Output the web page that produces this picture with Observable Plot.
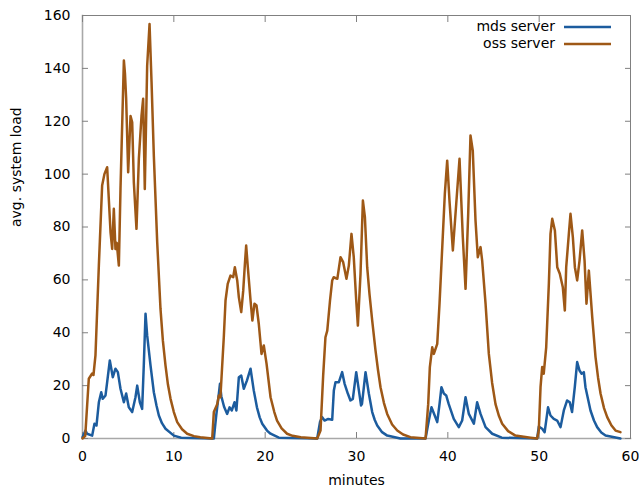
<!DOCTYPE html>
<html>
<head>
<meta charset="utf-8">
<script src="https://cdn.jsdelivr.net/npm/d3@7"></script>
<script src="https://cdn.jsdelivr.net/npm/@observablehq/plot@0.6"></script>
<style>
  html, body { margin: 0; padding: 0; background: #fff; }
  #chart { width: 639px; height: 491px; }
  svg { font-family: "DejaVu Sans", sans-serif; }
</style>
</head>
<body>
<div id="chart"></div>
<script>
// ---- data ----
const xTicks = [0, 10, 20, 30, 40, 50, 60];
const yTicks = [0, 20, 40, 60, 80, 100, 120, 140, 160];
const seriesNames = ["mds server", "oss server"];
const seriesColors = ["#1c5c9e", "#9e5816"];

const mdsMinutes = [0, 0.33, 0.5, 1.06, 1.31, 1.53, 1.79, 2.05, 2.22, 2.52, 2.7, 2.99, 3.32, 3.61, 3.87, 4.16, 4.53, 4.78, 5.07, 5.44, 5.8, 5.99, 6.28, 6.53, 6.71, 6.9, 7.08, 7.45, 7.81, 8.1, 8.36, 8.7, 9.09, 10.0, 10.8, 14.2,
  14.38, 14.64, 14.93, 15.05, 15.2, 15.5, 15.84, 16.1, 16.35, 16.64, 16.85, 17.12, 17.38, 17.66, 18.0, 18.4, 18.75, 19.1, 19.4, 19.68, 20.2, 20.59, 21.5, 25.7,
  26.0, 26.24, 26.5, 26.9, 27.34, 27.52, 27.7, 28.07, 28.43, 28.7, 29.05, 29.34, 29.6, 29.97, 30.26, 30.5, 30.6, 30.99, 31.35, 31.72, 32.0, 32.27, 32.8, 33.36, 34.8, 37.56,
  37.92, 38.21, 38.5, 38.84, 39.09, 39.3, 39.56, 39.82, 40.1, 40.65, 41.2, 41.57, 41.94, 42.3, 42.85, 43.21, 43.58, 44.13, 44.86, 45.9, 49.78,
  49.96, 50.33, 50.6, 50.97, 51.24, 51.6, 51.97, 52.34, 52.7, 53.06, 53.35, 53.6, 53.9, 54.16, 54.42, 54.65, 54.89, 55.07, 55.62, 56.0, 56.35, 56.8, 57.27, 58.9];
const mdsLoad = [0.5, 3, 1.8, 1.1, 5.6, 4.9, 13.7, 17.5, 15, 16.3, 21.3, 29.5, 23.2, 26.4, 25.1, 18.8, 13.7, 17, 11.8, 10, 15.6, 20, 13.7, 11.2, 27.6, 47.2, 39, 27.6, 17.5, 12.5, 8.7, 5.8, 3.7, 1.1, 0.3, 0,
  0, 8.7, 17, 20.7, 16, 12, 9.3, 11.8, 10.6, 13.7, 10.6, 23.2, 23.8, 18.8, 21.9, 26.4, 18.2, 11.8, 8, 5.6, 3, 1.8, 0.3, 0,
  6.2, 8.1, 6.8, 7.4, 7.1, 18.2, 21.3, 21.3, 25.1, 20.7, 17, 14.4, 15, 25.1, 18.2, 12.5, 13.1, 25.1, 17, 10, 7, 4.9, 2.4, 1.1, 0, 0,
  6.8, 11.8, 9.3, 6.2, 13, 19.4, 17, 16.3, 13, 7.4, 4.3, 6.8, 15.6, 9.3, 5.6, 13.7, 9.3, 4.3, 1.8, 0.3, 0,
  4.5, 3.7, 2.4, 11.8, 8.7, 7.4, 6.8, 4.3, 10.6, 14.4, 13.7, 10, 19.4, 28.9, 25.7, 24.5, 25.1, 19.4, 10.6, 6.8, 4.3, 2.3, 1.1, 0];

const ossMinutes = [0, 0.3, 0.69, 1.06, 1.2, 1.42, 1.79, 2.15, 2.4, 2.7, 3.07, 3.25, 3.43, 3.61, 3.75, 3.98, 4.16, 4.53, 4.65, 4.78, 5.0, 5.26, 5.44, 5.62, 5.91, 6.17, 6.46, 6.64, 6.82, 7.08, 7.34, 7.56, 7.81, 8.18, 8.54, 8.8, 9.09, 9.35, 9.64, 10.0, 10.37, 10.9, 11.46, 12.2, 12.9, 14.2,
  14.38, 14.75, 14.93, 15.1, 15.47, 15.66, 15.9, 16.2, 16.5, 16.68, 16.94, 17.12, 17.38, 17.6, 17.78, 17.92, 18.1, 18.4, 18.6, 18.83, 19.05, 19.3, 19.6, 19.85, 20.15, 20.59, 21.0, 21.3, 21.8, 22.4, 23.0, 23.9, 25.7,
  26.06, 26.35, 26.6, 26.8, 27.1, 27.34, 27.5, 27.9, 28.25, 28.54, 28.9, 29.16, 29.45, 29.7, 29.97, 30.15, 30.44, 30.7, 30.92, 31.17, 31.42, 31.72, 32.08, 32.35, 32.63, 33.0, 33.36, 33.9, 34.46, 35.1, 35.9, 37.56,
  37.85, 38.03, 38.29, 38.47, 38.84, 39.09, 39.39, 39.67, 39.93, 40.18, 40.55, 40.92, 41.28, 41.64, 41.94, 42.23, 42.48, 42.73, 43.03, 43.28, 43.58, 43.76, 44.13, 44.49, 44.85, 45.22, 45.6, 45.95, 46.6, 47.4, 49.05, 49.78,
  49.96, 50.15, 50.33, 50.5, 50.77, 51.06, 51.24, 51.43, 51.72, 51.98, 52.26, 52.59, 52.81, 52.96, 53.25, 53.43, 53.69, 53.91, 54.16, 54.42, 54.71, 54.97, 55.18, 55.44, 55.81, 56.17, 56.45, 56.72, 57.1, 57.45, 57.9, 58.36, 58.9];
const ossLoad = [0, 1, 22.6, 24.6, 24, 31.4, 65.4, 95.7, 100, 102.6, 78, 71.7, 86.9, 71.7, 74, 65.4, 94.4, 143, 138, 128.5, 100.7, 122, 119.6, 97, 79.3, 105.8, 122, 128.5, 94.4, 141, 156.8, 134.8, 107, 74.2, 49, 37, 27.6, 20.5, 15, 10, 6.2, 3.5, 1.8, 0.9, 0.5, 0,
  10, 13, 16.3, 15.6, 38.3, 52.2, 58.5, 61.6, 61, 64.8, 59.8, 53.4, 47.8, 56, 66, 73, 64.8, 52.2, 44.6, 51, 50.3, 43.4, 32, 35.2, 28.3, 15.6, 10, 6.8, 3.8, 1.8, 1.0, 0.5, 0,
  3, 23.8, 38.3, 40.8, 52.2, 59.8, 61, 60.4, 68.6, 66.7, 60.4, 65.4, 77.4, 68.6, 52.2, 42.7, 62.3, 90, 83.7, 64.8, 54.7, 44.6, 33.3, 26, 19.4, 13.5, 9.3, 5.3, 3, 1.5, 0.5, 0,
  13, 27, 34.5, 32, 35.8, 51, 72.4, 92.5, 105.1, 90, 71.1, 88.8, 105.8, 76.1, 56.6, 85, 114.6, 108.9, 82.5, 68.6, 72.4, 67.3, 51, 32, 21, 13, 8.5, 5.6, 2.8, 1.1, 0.3, 0,
  3, 19.4, 27, 24.5, 34.5, 58.5, 77.4, 83.1, 78.7, 64.8, 62.3, 57.2, 48.4, 64.8, 77.4, 85, 76.1, 64.8, 59.8, 67.3, 78.7, 67.3, 51, 63.5, 45.9, 30.8, 23, 17, 11.5, 8.1, 5, 3, 2.4];

// ---- build table ----
const rows = [
  ...mdsMinutes.map((t, i) => ({minutes: t, load: mdsLoad[i], series: seriesNames[0]})),
  ...ossMinutes.map((t, i) => ({minutes: t, load: ossLoad[i], series: seriesNames[1]}))
];

const font = "DejaVu Sans";
const chart = Plot.plot({
  width: 639,
  height: 491,
  marginLeft: 82,
  marginRight: 9,
  marginTop: 15,
  marginBottom: 53,
  style: {fontFamily: font, fontSize: "14px", color: "#000", background: "#fff"},
  x: {domain: [0, 60], label: null},
  y: {domain: [0, 160], label: null},
  color: {domain: seriesNames, range: seriesColors},
  marks: [
    // frame
    Plot.frame({anchor: "top", stroke: "#808080", strokeWidth: 1}),
    Plot.frame({anchor: "right", stroke: "#808080", strokeWidth: 1}),
    Plot.frame({anchor: "left", stroke: "#a8a8a8", strokeWidth: 1.6}),
    Plot.frame({anchor: "bottom", stroke: "#a8a8a8", strokeWidth: 1.6}),
    // inward ticks
    Plot.axisX(xTicks, {anchor: "bottom", tickSize: 6, dy: -6, text: null, stroke: "#808080", label: null}),
    Plot.axisX(xTicks, {anchor: "top", tickSize: 6, dy: 6, text: null, stroke: "#808080", label: null}),
    Plot.axisY(yTicks, {anchor: "left", tickSize: 6, dx: 6, text: null, stroke: "#808080", label: null}),
    Plot.axisY(yTicks, {anchor: "right", tickSize: 6, dx: -6, text: null, stroke: "#808080", label: null}),
    // tick labels
    Plot.axisX(xTicks, {anchor: "bottom", tickSize: 0, tickPadding: 13, fontSize: 14, fill: "#000", label: null}),
    Plot.axisY(yTicks, {anchor: "left", tickSize: 0, tickPadding: 12, fontSize: 14, fill: "#000", label: null}),
    // axis titles
    Plot.text(["minutes"], {frameAnchor: "bottom", dy: 42, text: d => d, fontSize: 14, fill: "#000", lineAnchor: "middle"}),
    Plot.text(["avg. system load"], {frameAnchor: "left", dx: -66, rotate: -90, text: d => d, fontSize: 14, fill: "#000"}),
    // data
    Plot.line(rows, {x: "minutes", y: "load", z: "series", stroke: "series", strokeWidth: 2.5, strokeLinejoin: "round"})
  ]
});
document.getElementById("chart").appendChild(chart);

// legend (top-right, inside the frame)
const svg = d3.select(chart);
const lg = svg.append("g").attr("font-family", font).attr("font-size", 14);
seriesNames.forEach((name, i) => {
  const y = 27 + i * 17;
  lg.append("text").attr("x", 555).attr("y", y).attr("dy", "0.32em")
    .attr("text-anchor", "end").attr("fill", "#000").text(name);
  lg.append("line").attr("x1", 564).attr("x2", 611).attr("y1", y).attr("y2", y)
    .attr("stroke", seriesColors[i]).attr("stroke-width", 2.5);
});
</script>
</body>
</html>
